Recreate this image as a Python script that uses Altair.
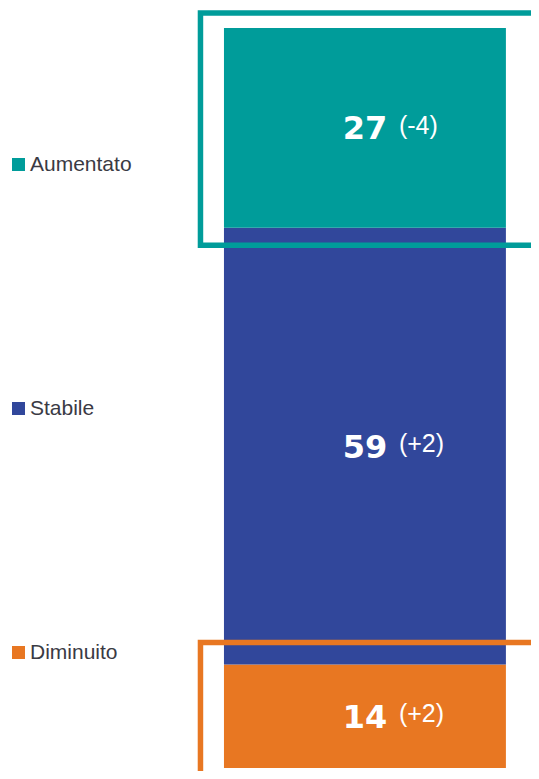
import altair as alt
import pandas as pd

categories = ["Aumentato", "Stabile", "Diminuito"]
values = [27, 59, 14]
changes = ["(-4)", "(+2)", "(+2)"]
colors = ["#009C9A", "#31479B", "#E87722"]
highlighted = ["Aumentato", "Diminuito"]

# build stacked segments (bottom-up: Diminuito, Stabile, Aumentato)
rows = []
base = 0
for cat, val, chg in reversed(list(zip(categories, values, changes))):
    rows.append({"cat": cat, "val": val, "chg": chg, "y0": base, "y1": base + val,
                 "mid": base + val / 2, "x0": 0, "x1": 1, "xm": 0.5})
    base += val
df = pd.DataFrame(rows)

xs = alt.Scale(domain=[-0.766, 1.089])
ys = alt.Scale(domain=[-0.405, 102.703])
cs = alt.Scale(domain=categories, range=colors)

bars = alt.Chart(df).mark_rect().encode(
    x=alt.X("x0:Q", scale=xs, axis=None),
    x2="x1:Q",
    y=alt.Y("y0:Q", scale=ys, axis=None),
    y2="y1:Q",
    color=alt.Color("cat:N", scale=cs, legend=alt.Legend(
        orient="none", legendX=0, legendY=146, title=None, symbolType="square",
        symbolSize=169, symbolStrokeWidth=0, labelFontSize=21,
        labelFont="Liberation Sans", labelColor="#3a3a44", labelOffset=1,
        rowPadding=222, padding=0)),
)

top_df = df[df["cat"] == highlighted[0]]
bot_df = df[df["cat"] == highlighted[1]]

frame_top = alt.Chart(top_df).mark_rect(
    fillOpacity=0, strokeWidth=5.5, xOffset=-23.5, x2Offset=80, yOffset=17.5, y2Offset=-15
).encode(
    x=alt.X("x0:Q", scale=xs, axis=None), x2="x1:Q",
    y=alt.Y("y0:Q", scale=ys, axis=None), y2="y1:Q",
    stroke=alt.Color("cat:N", scale=cs, legend=None),
)

frame_bot = alt.Chart(bot_df).mark_rect(
    fillOpacity=0, strokeWidth=5.5, xOffset=-23.5, x2Offset=80, yOffset=40, y2Offset=-22
).encode(
    x=alt.X("x0:Q", scale=xs, axis=None), x2="x1:Q",
    y=alt.Y("y0:Q", scale=ys, axis=None), y2="y1:Q",
    stroke=alt.Color("cat:N", scale=cs, legend=None),
)

nums = alt.Chart(df).mark_text(
    font="DejaVu Sans", fontWeight="bold", fontSize=32, color="white",
    align="center", baseline="alphabetic", dy=11.5
).encode(
    x=alt.X("xm:Q", scale=xs, axis=None),
    y=alt.Y("mid:Q", scale=ys, axis=None),
    text="val:Q",
)

parens = alt.Chart(df).mark_text(
    font="Liberation Sans", fontSize=25, color="white",
    align="left", baseline="alphabetic", dx=34, dy=6
).encode(
    x=alt.X("xm:Q", scale=xs, axis=None),
    y=alt.Y("mid:Q", scale=ys, axis=None),
    text="chg:N",
)

chart = alt.layer(bars, frame_top, frame_bot, nums, parens).properties(
    width=523, height=763,
    autosize=alt.AutoSizeParams(type="none"), padding=0,
).configure_view(stroke=None)

chart.save("out.html", embed_options={"renderer": "svg", "actions": False})
